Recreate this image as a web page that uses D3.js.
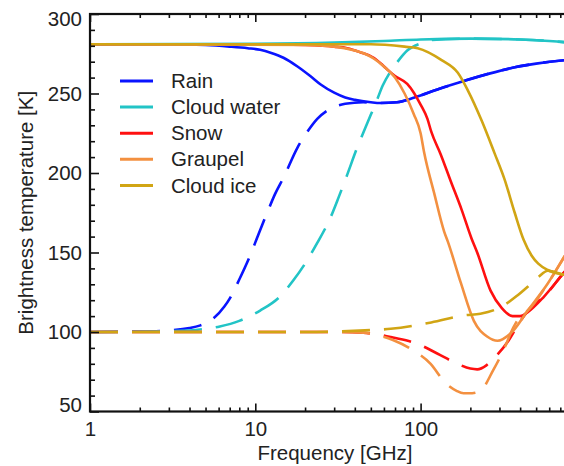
<!DOCTYPE html>
<html>
<head>
<meta charset="utf-8">
<script src="https://cdn.jsdelivr.net/npm/d3@7"></script>
<style>
	html, body { margin: 0; padding: 0; background: #fff; }
	svg { display: block; font-family: "Liberation Sans", Arial, sans-serif; }
</style>
</head>
<body>
<svg id="chart"></svg>
<script>
;(() => {
	'use strict';

	// [frequency GHz, brightness temperature K]
	const rainSolid = [[1,281],[3,281],[5,280.5],[7,279.5],[9,278.5],[10.7,277.5],[12.5,275.5],[14.8,272.5],[18,267],[21.5,261],[25,255.5],[30,250.5],[35,247.5],[40,246],[50,244.5],[57,244],[72,244.5],[92,247.5],[130,253],[185,258],[260,262.5],[371,266.5],[500,268.8],[750,271],[1000,272]];
	const rainDashed = [[1,100],[2,100.3],[3,101],[4,102.5],[4.6,104],[5.5,108],[6.5,116],[7,121],[8,133],[9.3,148],[10.5,162],[11.8,175],[13.2,187],[14.8,197],[18,216],[21,227],[23.7,234],[28.5,240.5],[35,243.5],[45,244.5],[57,244],[72,244.5],[92,247.5],[130,253],[185,258],[260,262.5],[371,266.5],[500,268.8],[750,271],[1000,272]];

	const cloudSolid = [[1,281],[10,281.3],[30,282],[60,283],[100,284],[200,284.5],[400,284],[600,283],[800,282],[1000,281]];
	const cloudDashed = [[1,100],[3,100.5],[5,102],[6.1,103.5],[8,107],[10.7,113.5],[14,122],[17,132.5],[20,143],[23.7,156],[28.5,172],[32,185],[36,199],[41,215],[47,230],[54.5,246],[59,255],[65,263],[72,269.5],[83,277],[100,281.5],[116,283.6],[200,284.5],[400,284],[600,283],[800,282],[1000,281]];

	const snowSolid = [[1,281],[10,281],[20,280.5],[30,279.5],[36,278.5],[43,276],[52,272.5],[58,268.5],[63,265],[70,261],[83,256],[91,250.5],[100,243],[110,234],[116,226],[132,212],[152,195],[177,177],[203,159],[220,150],[265,126],[310,115],[360,110],[400,110],[445,112.5],[555,122],[705,135],[800,142],[1000,155]];
	const snowDashed = [[1,100],[30,100],[45,99.5],[55,98.5],[68,96.5],[96,92.5],[126,86.5],[167,80],[200,77],[220,76.5],[250,79],[275,83],[340,94.5],[402,107],[480,117],[555,122],[705,135],[800,142],[1000,155]];

	const graupelSolid = [[1,281],[20,280.5],[30,279.5],[40,277],[46,275],[52,272],[60,267],[70,260],[80,250],[91,237],[100,225],[105,213],[121,187],[139,163],[146,157],[175,131],[210,107],[254,97],[292,94.5],[350,99],[445,113.5],[588,130.5],[737,147],[1000,170]];
	const graupelDashed = [[1,100],[30,100],[45,99.5],[55,98],[68,95],[90,88.5],[115,80],[141,68],[165,63],[182,61.5],[205,61.5],[230,63],[275,76],[317,88.5],[365,103],[402,110],[445,113.5],[588,130.5],[737,147],[1000,170]];

	const iceSolid = [[1,281],[50,281],[80,279.5],[96,278.5],[134,271],[168,263],[193,252],[234,233],[280,212.5],[322,196],[371,175],[420,158],[470,148],[515,143],[588,139],[737,136],[1000,134]];
	const iceDashed = [[1,100],[20,100],[46,101],[66,102],[116,106],[185,110.5],[230,111.5],[310,116],[385,123],[450,129],[515,134.5],[588,138.5],[737,136],[1000,134]];

	const seriesNames = ['Rain', 'Cloud water', 'Snow', 'Graupel', 'Cloud ice'],
		seriesColors = ['#0a14ff', '#22c4c6', '#ff1010', '#f39040', '#d1a514'],
		solidData = [rainSolid, cloudSolid, snowSolid, graupelSolid, iceSolid],
		dashedData = [rainDashed, cloudDashed, snowDashed, graupelDashed, iceDashed];

	const xMajorTicks = [1, 10, 100, 1000],
		xTickLabels = [1, 10, 100],
		yMajorTicks = [50, 100, 150, 200, 250, 300];

	const width = 564,
		height = 466,
		margin = {left: 90, top: 14},
		decade = 165.3,
		plotBottom = 411.5,
		fontSize = 20.5,
		lineWidth = 2.6;

	const svg = d3.select('#chart')
		.attr('width', width)
		.attr('height', height);

	const x = d3.scaleLog().domain([1, 1000]).range([margin.left, margin.left + 3 * decade]),
		y = d3.scaleLinear().domain([50, 300]).range([plotBottom, margin.top]);

	const line = d3.line()
		.x(d => x(d[0]))
		.y(d => y(d[1]))
		.curve(d3.curveMonotoneX);

	// clip curves to plot box
	svg.append('clipPath').attr('id', 'plot-clip')
		.append('rect')
		.attr('x', x.range()[0]).attr('y', y.range()[1])
		.attr('width', x.range()[1] - x.range()[0])
		.attr('height', y.range()[0] - y.range()[1]);

	const curves = svg.append('g').attr('clip-path', 'url(#plot-clip)');

	seriesNames.forEach((name, i) => {
		curves.append('path')
			.datum(solidData[i])
			.attr('fill', 'none')
			.attr('stroke', seriesColors[i])
			.attr('stroke-width', lineWidth)
			.attr('d', line);
		curves.append('path')
			.datum(dashedData[i])
			.attr('fill', 'none')
			.attr('stroke', seriesColors[i])
			.attr('stroke-width', lineWidth)
			.attr('stroke-dasharray', '28,14')
			.attr('d', line);
	});

	// minor ticks for the log axis
	const xMinor = [];
	[1, 10, 100].forEach(base => {
		for (let k = 2; k <= 9; k++) xMinor.push(base * k);
	});
	const yMinor = d3.range(50, 301, 10).filter(v => yMajorTicks.indexOf(v) === -1);

	const axisStyle = g => {
		g.select('.domain').remove();
		g.selectAll('line').attr('stroke', '#111').attr('stroke-width', 1.6);
		g.selectAll('text').attr('font-size', fontSize).attr('fill', '#222').attr('font-family', 'Liberation Sans, Arial, sans-serif');
	};

	// bottom axis
	svg.append('g').attr('transform', `translate(0,${plotBottom})`)
		.call(d3.axisTop(x).tickValues(xMajorTicks).tickSize(8).tickFormat(''))
		.call(axisStyle);
	svg.append('g').attr('transform', `translate(0,${plotBottom})`)
		.call(d3.axisTop(x).tickValues(xMinor).tickSize(4).tickFormat(''))
		.call(axisStyle);
	svg.append('g').attr('transform', `translate(0,${plotBottom})`)
		.call(d3.axisBottom(x).tickValues(xTickLabels).tickSize(0).tickPadding(10).tickFormat(d3.format('d')))
		.call(axisStyle);

	// top axis (mirror)
	svg.append('g').attr('transform', `translate(0,${margin.top})`)
		.call(d3.axisBottom(x).tickValues(xMajorTicks).tickSize(8).tickFormat(''))
		.call(axisStyle);
	svg.append('g').attr('transform', `translate(0,${margin.top})`)
		.call(d3.axisBottom(x).tickValues(xMinor).tickSize(4).tickFormat(''))
		.call(axisStyle);

	// left axis
	svg.append('g').attr('transform', `translate(${margin.left},0)`)
		.call(d3.axisRight(y).tickValues(yMajorTicks).tickSize(9).tickFormat(''))
		.call(axisStyle);
	svg.append('g').attr('transform', `translate(${margin.left},0)`)
		.call(d3.axisRight(y).tickValues(yMinor).tickSize(5).tickFormat(''))
		.call(axisStyle);
	const yLabels = svg.append('g').attr('transform', `translate(${margin.left},0)`)
		.call(d3.axisLeft(y).tickValues(yMajorTicks).tickSize(0).tickPadding(8))
		.call(axisStyle);
	// keep end labels inside the box, as in the original
	yLabels.selectAll('.tick text')
		.attr('y', d => d === 300 ? 5 : (d === 50 ? -7 : 0));

	// frame
	svg.append('rect')
		.attr('x', x.range()[0]).attr('y', y.range()[1])
		.attr('width', x.range()[1] - x.range()[0])
		.attr('height', y.range()[0] - y.range()[1])
		.attr('fill', 'none')
		.attr('stroke', '#111')
		.attr('stroke-width', 2.2);

	// axis titles
	svg.append('text')
		.attr('x', (x.range()[0] + x.range()[1]) / 2 - 3)
		.attr('y', 460)
		.attr('text-anchor', 'middle')
		.attr('font-size', fontSize)
		.attr('fill', '#222')
		.text('Frequency [GHz]');

	svg.append('text')
		.attr('transform', `translate(33,${(y.range()[0] + y.range()[1]) / 2}) rotate(-90)`)
		.attr('text-anchor', 'middle')
		.attr('font-size', fontSize)
		.attr('fill', '#222')
		.text('Brightness temperature [K]');

	// legend
	const legend = svg.append('g').attr('transform', 'translate(120,81)');
	seriesNames.forEach((name, i) => {
		const row = legend.append('g').attr('transform', `translate(0,${i * 26.1})`);
		row.append('line')
			.attr('x1', 0).attr('x2', 33)
			.attr('stroke', seriesColors[i])
			.attr('stroke-width', 3);
		row.append('text')
			.attr('x', 51)
			.attr('dy', '0.35em')
			.attr('font-size', fontSize)
			.attr('fill', '#222')
			.text(name);
	});
})();
</script>
</body>
</html>
